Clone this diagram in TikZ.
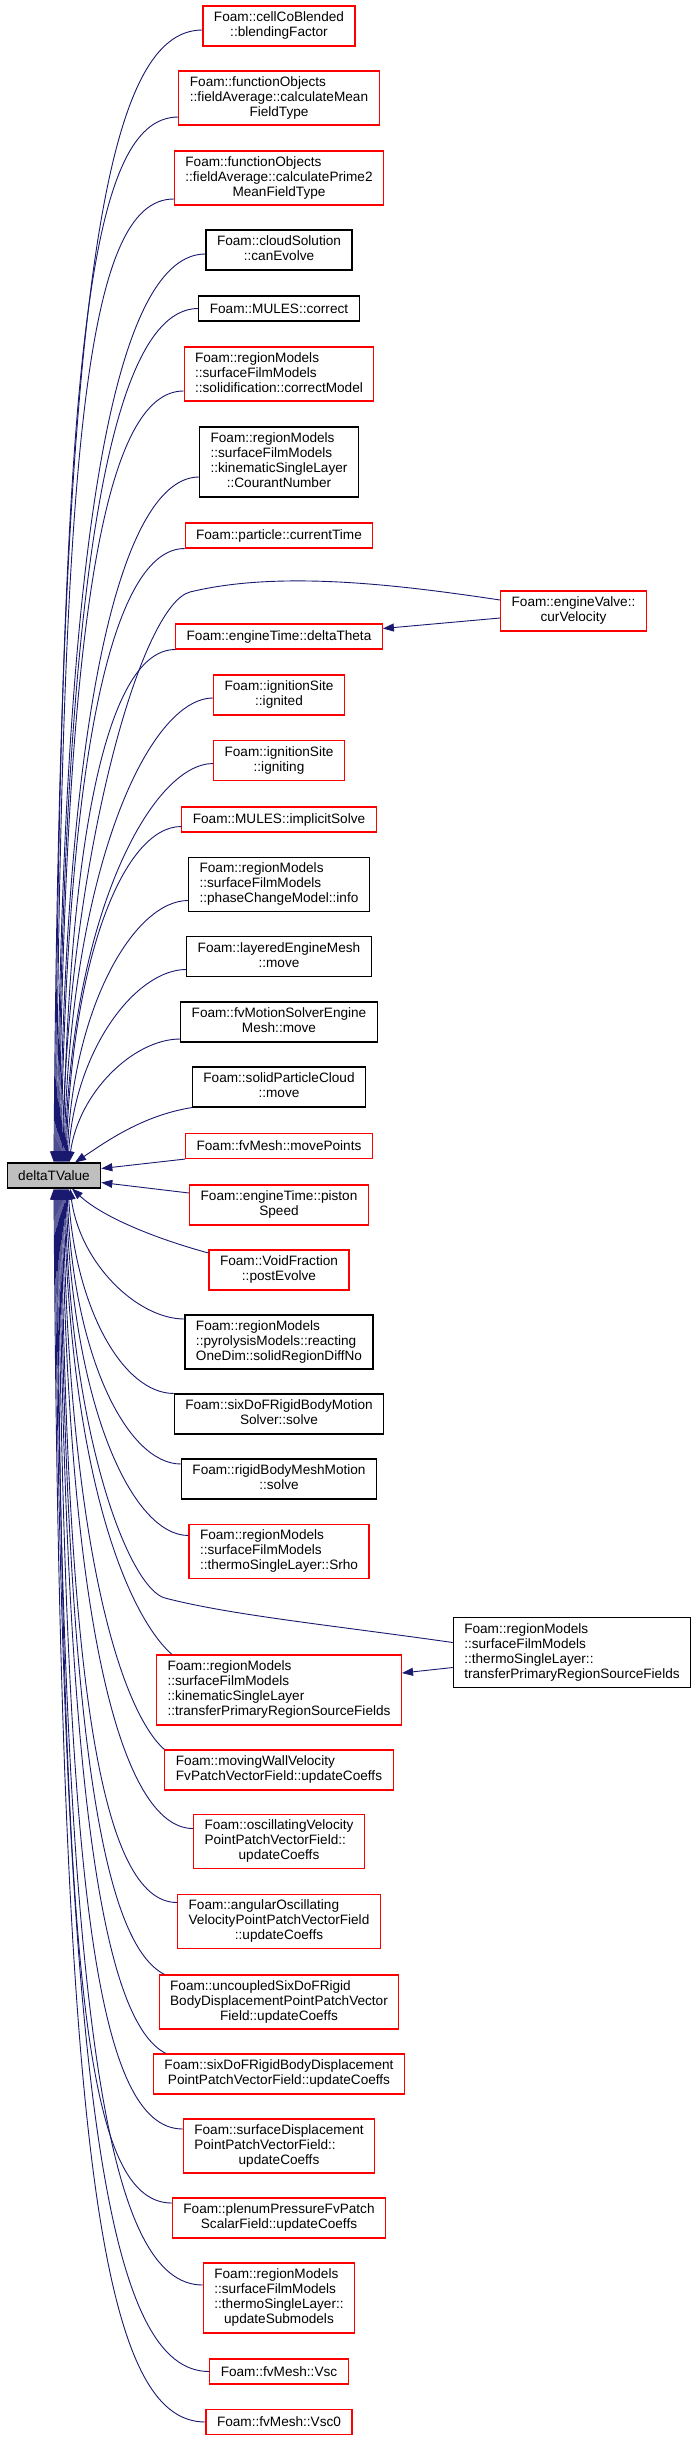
\documentclass[tikz,border=0pt]{standalone}
\usepackage{fontspec}
\setmainfont{Liberation Sans}
\usetikzlibrary{arrows.meta}
\definecolor{edgeblue}{HTML}{191970}
\definecolor{boxred}{HTML}{FF0000}
\definecolor{boxgray}{HTML}{BFBFBF}
\newcommand{\cen}[1]{\begin{tabular}{@{}c@{}}#1\end{tabular}}
\newcommand{\lft}[1]{\begin{tabular}{@{}l@{}}#1\end{tabular}}
\newcommand{\mc}[1]{\multicolumn{1}{@{}c@{}}{#1}}

\begin{document}
\begin{tikzpicture}[x=1pt,y=-1pt,>={Triangle[length=11pt,width=8pt]},
  fn/.style={draw=boxred,line width=1.1pt,fill=white,inner xsep=11pt,inner ysep=2pt,
    font=\fontsize{13.6}{15}\selectfont},
  fnb/.style={fn,draw=black},
  h1/.style={minimum height=25pt},
  h2/.style={minimum height=40pt},
  h3/.style={minimum height=54pt},
  h4/.style={minimum height=70pt},
  call/.style={->,draw=edgeblue,line width=0.9pt}]
\fill[white] (0,0) rectangle (692,2441);
\useasboundingbox (0,0) rectangle (692,2441);

% the function and its callers
\node[fnb,h1,fill=boxgray] (dtv) at (54,1175.5) {deltaTValue};
\node[fn,h2] (cell) at (279,26) {\cen{Foam::cellCoBlended\\::blendingFactor}};
\node[fn,h3] (mean) at (279,98) {\lft{Foam::functionObjects\\::fieldAverage::calculateMean\\\mc{FieldType}}};
\node[fn,h3] (prime) at (279,178) {\lft{Foam::functionObjects\\::fieldAverage::calculatePrime2\\\mc{MeanFieldType}}};
\node[fnb,h2] (cloud) at (279,250) {\cen{Foam::cloudSolution\\::canEvolve}};
\node[fnb,h1] (mulesc) at (279,308.5) {Foam::MULES::correct};
\node[fn,h3] (solid) at (279,374) {\lft{Foam::regionModels\\::surfaceFilmModels\\::solidification::correctModel}};
\node[fnb,h4] (courant) at (279,462) {\lft{Foam::regionModels\\::surfaceFilmModels\\::kinematicSingleLayer\\\mc{::CourantNumber}}};
\node[fn,h1] (curtime) at (279,535.5) {Foam::particle::currentTime};
\node[fn,h2] (valve) at (573.5,611) {\cen{Foam::engineValve::\\curVelocity}};
\node[fn,h1] (dtheta) at (279,636.5) {Foam::engineTime::deltaTheta};
\node[fn,h2] (ignited) at (279,695) {\cen{Foam::ignitionSite\\::ignited}};
\node[fn,h2] (igniting) at (279,760.5) {\cen{Foam::ignitionSite\\::igniting}};
\node[fn,h1] (implicit) at (279,819.5) {Foam::MULES::implicitSolve};
\node[fnb,h3] (info) at (279,884.5) {\lft{Foam::regionModels\\::surfaceFilmModels\\::phaseChangeModel::info}};
\node[fnb,h2] (layered) at (279,956.5) {\cen{Foam::layeredEngineMesh\\::move}};
\node[fnb,h2] (fvmotion) at (279,1022) {\cen{Foam::fvMotionSolverEngine\\Mesh::move}};
\node[fnb,h2] (spcloud) at (279,1087) {\cen{Foam::solidParticleCloud\\::move}};
\node[fn,h1] (movepts) at (279,1146) {Foam::fvMesh::movePoints};
\node[fn,h2] (piston) at (279,1205) {\cen{Foam::engineTime::piston\\Speed}};
\node[fn,h2] (voidf) at (279,1270) {\cen{Foam::VoidFraction\\::postEvolve}};
\node[fnb,h3] (reacting) at (279,1342) {\lft{Foam::regionModels\\::pyrolysisModels::reacting\\OneDim::solidRegionDiffNo}};
\node[fnb,h2] (sixsolve) at (279,1414) {\cen{Foam::sixDoFRigidBodyMotion\\Solver::solve}};
\node[fnb,h2] (rigid) at (279,1479) {\cen{Foam::rigidBodyMeshMotion\\::solve}};
\node[fn,h3] (srho) at (279,1551.5) {\lft{Foam::regionModels\\::surfaceFilmModels\\::thermoSingleLayer::Srho}};
\node[fnb,h4] (thermotr) at (572,1652.5) {\lft{Foam::regionModels\\::surfaceFilmModels\\::thermoSingleLayer::\\transferPrimaryRegionSourceFields}};
\node[fn,h4] (kintr) at (279,1690) {\lft{Foam::regionModels\\::surfaceFilmModels\\::kinematicSingleLayer\\::transferPrimaryRegionSourceFields}};
\node[fn,h2] (movwall) at (279,1770) {\lft{Foam::movingWallVelocity\\FvPatchVectorField::updateCoeffs}};
\node[fn,h3] (oscill) at (279,1841.5) {\lft{Foam::oscillatingVelocity\\PointPatchVectorField::\\\mc{updateCoeffs}}};
\node[fn,h3] (angular) at (279,1921.5) {\lft{Foam::angularOscillating\\VelocityPointPatchVectorField\\\mc{::updateCoeffs}}};
\node[fn,h3] (uncoupled) at (279,2002) {\lft{Foam::uncoupledSixDoFRigid\\BodyDisplacementPointPatchVector\\\mc{Field::updateCoeffs}}};
\node[fn,h2] (sixdisp) at (279,2074) {\cen{Foam::sixDoFRigidBodyDisplacement\\PointPatchVectorField::updateCoeffs}};
\node[fn,h3] (surfdisp) at (279,2146) {\lft{Foam::surfaceDisplacement\\PointPatchVectorField::\\\mc{updateCoeffs}}};
\node[fn,h2] (plenum) at (279,2218) {\cen{Foam::plenumPressureFvPatch\\ScalarField::updateCoeffs}};
\node[fn,h4] (submod) at (279,2298) {\lft{Foam::regionModels\\::surfaceFilmModels\\::thermoSingleLayer::\\\mc{updateSubmodels}}};
\node[fn,h1] (vsc) at (279,2371.5) {Foam::fvMesh::Vsc};
\node[fn,h1] (vsczero) at (279,2422) {Foam::fvMesh::Vsc0};

% callers above
\draw[call] ([yshift=-4pt]cell.west) .. controls +(-97,0) and +(6,-880) .. (dtv.north);
\draw[call] ([yshift=-19pt]mean.west) .. controls +(-92,0) and +(6,-794) .. ([xshift=1pt]dtv.north);
\draw[call] ([yshift=-21pt]prime.west) .. controls +(-88,0) and +(6,-716) .. ([xshift=2pt]dtv.north);
\draw[call] ([yshift=-4pt]cloud.west) .. controls +(-85,0) and +(6,-665) .. ([xshift=3pt]dtv.north);
\draw[call] (mulesc.west) .. controls +(-83,0) and +(6,-616) .. ([xshift=4pt]dtv.north);
\draw[call] ([yshift=-17pt]solid.west) .. controls +(-79,0) and +(6,-544) .. ([xshift=5pt]dtv.north);
\draw[call] ([yshift=-15pt]courant.west) .. controls +(-74,0) and +(6,-472) .. ([xshift=6pt]dtv.north);
\draw[call] (curtime.south west) .. controls +(-71,0) and +(6,-414) .. ([xshift=7pt]dtv.north);
\draw[call] ([yshift=11pt]valve.west) .. controls (400,585) and (280,570) .. (190,592)
  .. controls (140,605) and (68,862) .. ([xshift=8pt]dtv.north);
\draw[call] ([yshift=-7pt]valve.west) -- ([yshift=8pt]dtheta.east);
\draw[call] (dtheta.south west) .. controls +(-66,0) and +(6,-335) .. ([xshift=9pt]dtv.north);
\draw[call] ([yshift=-3pt]ignited.west) .. controls +(-63,0) and +(6,-299) .. ([xshift=10pt]dtv.north);
\draw[call] ([yshift=-3pt]igniting.west) .. controls +(-60,0) and +(6,-251) .. ([xshift=11pt]dtv.north);
\draw[call] ([yshift=-7pt]implicit.west) .. controls +(-57,0) and +(6,-207) .. ([xshift=12pt]dtv.north);
\draw[call] ([yshift=-16pt]info.west) .. controls +(-53,0) and +(6,-158) .. ([xshift=13pt]dtv.north);
\draw[call] ([yshift=-13pt]layered.west) .. controls +(-50,0) and +(7,-114) .. ([xshift=14pt]dtv.north);
\draw[call] ([yshift=-17pt]fvmotion.west) .. controls +(-46,0) and +(10,-71) .. ([xshift=15pt]dtv.north);
\draw[call] (spcloud.south west) .. controls +(-50,8) and +(30,-20) .. ([xshift=21pt]dtv.north);
\draw[call] (movepts.south west) -- ([yshift=7pt]dtv.east);

% callers below
\draw[call] ([yshift=12pt]piston.west) -- ([yshift=-7pt]dtv.east);
\draw[call] ([yshift=17pt]voidf.west) .. controls +(-55,-15) and +(30,28) .. ([xshift=18pt]dtv.south);
\draw[call] ([yshift=23pt]reacting.west) .. controls +(-47,0) and +(10,75) .. ([xshift=16pt]dtv.south);
\draw[call] (sixsolve.north west) .. controls +(-50,0) and +(8,122) .. ([xshift=14pt]dtv.south);
\draw[call] ([yshift=15pt]rigid.west) .. controls +(-54,0) and +(6,167) .. ([xshift=13pt]dtv.south);
\draw[call] ([yshift=16pt]srho.west) .. controls +(-57,0) and +(6,215) .. ([xshift=12pt]dtv.south);
\draw[call] ([yshift=10pt]thermotr.west) .. controls (330,1625) and (230,1615) .. (165,1598)
  .. controls (130,1589) and (70,1440) .. ([xshift=11pt]dtv.south);
\draw[call] ([yshift=-15pt]thermotr.west) -- ([yshift=17pt]kintr.east);
\draw[call] ([xshift=16pt]kintr.north west) .. controls +(-40,-35) and +(6,300) .. ([xshift=10pt]dtv.south);
\draw[call] (movwall.north west) .. controls +(-40,-35) and +(6,372) .. ([xshift=9pt]dtv.south);
\draw[call] ([yshift=13pt]oscill.west) .. controls +(-72,0) and +(6,434) .. ([xshift=8pt]dtv.south);
\draw[call] ([yshift=19pt]angular.west) .. controls +(-76,0) and +(6,495) .. ([xshift=7pt]dtv.south);
\draw[call] ([xshift=6pt]uncoupled.north west) .. controls +(-60,-30) and +(6,557) .. ([xshift=6pt]dtv.south);
\draw[call] ([xshift=13pt]sixdisp.north west) .. controls +(-60,-30) and +(6,626) .. ([xshift=5pt]dtv.south);
\draw[call] ([yshift=17pt]surfdisp.west) .. controls +(-87,0) and +(6,695) .. ([xshift=4pt]dtv.south);
\draw[call] ([yshift=15pt]plenum.west) .. controls +(-91,0) and +(6,764) .. ([xshift=3pt]dtv.south);
\draw[call] ([yshift=13pt]submod.west) .. controls +(-95,0) and +(6,844) .. ([xshift=2pt]dtv.south);
\draw[call] (vsc.west) .. controls +(-99,0) and +(6,931) .. ([xshift=1pt]dtv.south);
\draw[call] (vsczero.west) .. controls +(-102,0) and +(6,983) .. (dtv.south);
\end{tikzpicture}
\end{document}
